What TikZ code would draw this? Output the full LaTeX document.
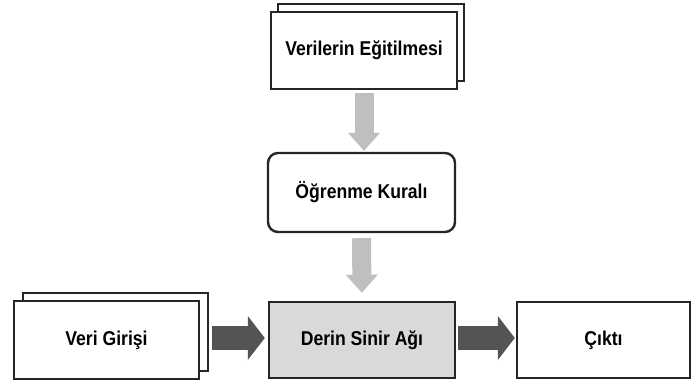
\documentclass[tikz,border=0pt]{standalone}
\usepackage{fontspec}
\setmainfont[FakeStretch=0.88]{Liberation Sans}
\usetikzlibrary{arrows.meta}

\begin{document}
\begin{tikzpicture}[x=1pt, y=-1pt,
    box/.style={rectangle, draw=black!85, line width=2.4pt, fill=white, minimum width=186pt, minimum height=77pt, align=center, inner sep=0pt, font=\fontsize{20}{22}\selectfont\bfseries},
    rbox/.style={box, rounded corners=10pt},
    netbox/.style={box, fill=black!15},
    lightarrow/.style={line width=19pt, draw=black!25, -{Triangle[width=32pt, length=18pt, line width=0pt]}},
    darkarrow/.style={line width=24pt, draw=black!67, -{Triangle[width=44pt, length=17pt, line width=0pt]}}
]
\useasboundingbox (0,0) rectangle (691,385);

% Training data (stacked)
\node[box] (train back) at (371,42.5) {};
\node[box] (train) at (364,50.5) {Verilerin Eğitilmesi};

% Learning rule
\node[rbox, minimum width=187pt, minimum height=79pt] (rule) at (361.5,192.5) {Öğrenme Kuralı};

% Deep neural network
\node[netbox, minimum height=76pt] (dnn) at (362,340) {Derin Sinir Ağı};

% Input (stacked)
\node[box, minimum width=185pt, minimum height=78pt] (input back) at (115.5,332) {};
\node[box, minimum width=185pt, minimum height=78pt] (input) at (106.5,340) {Veri Girişi};

% Output
\node[box, minimum width=173pt, minimum height=76pt] (output) at (603.5,340) {Çıktı};

% Arrows
\draw[lightarrow, shorten <=3pt, shorten >=1pt] (train.south) -- (train.south |- rule.north);
\draw[lightarrow, shorten <=5pt, shorten >=8pt] (rule.south) -- (dnn.north);
\draw[darkarrow, shorten <=3pt, shorten >=3pt] ([yshift=2pt]input back.east |- input.east) -- ([yshift=2pt]dnn.west);
\draw[darkarrow, shorten <=2pt, shorten >=1pt] ([yshift=2pt]dnn.east) -- ([yshift=2pt]output.west);

\end{tikzpicture}
\end{document}
